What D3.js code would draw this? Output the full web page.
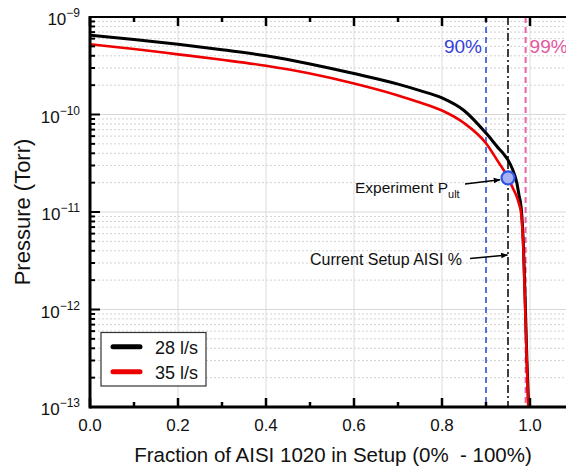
<!DOCTYPE html>
<html>
<head>
<meta charset="utf-8">
<script src="https://cdn.jsdelivr.net/npm/d3@7"></script>
<style>
  html, body { margin: 0; padding: 0; background: #fff; }
  svg { display: block; font-family: Arial, "Liberation Sans", sans-serif; }
</style>
</head>
<body>
<svg id="chart" width="566" height="470"></svg>
<script>
// ---- data ----
const fraction28 = [0, 0.1, 0.2, 0.3, 0.4, 0.5, 0.6, 0.7, 0.75, 0.8, 0.85, 0.9, 0.93, 0.94, 0.95, 0.96, 0.97, 0.975, 0.98, 0.985, 0.989, 0.993, 0.997];
const pressure28 = [6.5e-10, 5.88e-10, 5.25e-10, 4.61e-10, 4.01e-10, 3.30e-10, 2.63e-10, 2.05e-10, 1.76e-10, 1.48e-10, 1.10e-10, 6.45e-11, 4.43e-11, 3.94e-11, 3.41e-11, 2.76e-11, 2.0e-11, 1.49e-11, 1.1e-11, 4.6e-12, 1.26e-12, 3.0e-13, 1e-13];
const fraction35 = [0, 0.1, 0.2, 0.3, 0.4, 0.5, 0.6, 0.7, 0.75, 0.8, 0.85, 0.9, 0.93, 0.94, 0.95, 0.96, 0.97, 0.975, 0.98, 0.985, 0.989, 0.993, 0.996];
const pressure35 = [5.25e-10, 4.7e-10, 4.14e-10, 3.64e-10, 3.16e-10, 2.63e-10, 2.08e-10, 1.57e-10, 1.33e-10, 1.10e-10, 8.18e-11, 5.07e-11, 3.16e-11, 2.7e-11, 2.24e-11, 1.8e-11, 1.43e-11, 1.21e-11, 9.5e-12, 4.1e-12, 1.03e-12, 2.7e-13, 1e-13];
const seriesNames = ["28 l/s", "35 l/s"];
const xMajorTicks = [0, 0.2, 0.4, 0.6, 0.8, 1.0];
const xMinorTicks = [0.1, 0.3, 0.5, 0.7, 0.9, 1.1];
const yDecades = [-13, -12, -11, -10, -9];
const refLines = [0.9, 0.95, 0.99];
const refLabels = ["90%", "", "99%"];
const experimentPoint = [0.95, 2.24e-11];

// ---- layout ----
const svg = d3.select("#chart");
const L = 90, T = 17, B = 407, R = 590;
const x = d3.scaleLinear().domain([0, (R - L) / 440]).range([L, R]);
const y = d3.scaleLog().domain([1e-13, 1e-9]).range([B, T]);

svg.append("defs").append("clipPath").attr("id", "plotclip")
  .append("rect").attr("x", L).attr("y", T).attr("width", R - L).attr("height", B - T);

// minor y values
const yMinor = [];
yDecades.slice(0, -1).forEach(d => { for (let k = 2; k <= 9; k++) yMinor.push(k * Math.pow(10, d)); });

// grid
const grid = svg.append("g");
grid.selectAll(".hmin").data(yMinor).join("line")
  .attr("x1", L).attr("x2", R).attr("y1", d => y(d)).attr("y2", d => y(d))
  .attr("stroke", "#d2d2d2").attr("stroke-width", 1).attr("stroke-dasharray", "2,2");
grid.selectAll(".hmaj").data(yDecades.slice(1, -1)).join("line")
  .attr("x1", L).attr("x2", R).attr("y1", d => y(Math.pow(10, d))).attr("y2", d => y(Math.pow(10, d)))
  .attr("stroke", "#d8d8d8").attr("stroke-width", 1);
grid.selectAll(".vmaj").data(xMajorTicks.slice(1)).join("line")
  .attr("x1", d => x(d)).attr("x2", d => x(d)).attr("y1", T).attr("y2", B)
  .attr("stroke", "#dcdcdc").attr("stroke-width", 1);

// reference vertical lines
const refColors = ["#2340d0", "#000000", "#ee5fa6"];
const refDash = ["6,4", "8,3,2,3", "6,4"];
svg.append("g").selectAll("line").data(refLines).join("line")
  .attr("x1", d => x(d)).attr("x2", d => x(d)).attr("y1", T).attr("y2", B)
  .attr("stroke", (d, i) => refColors[i]).attr("stroke-width", (d, i) => i === 2 ? 2 : 1.5)
  .attr("stroke-dasharray", (d, i) => refDash[i]);
svg.append("g").selectAll("text").data(refLines).join("text")
  .attr("x", (d, i) => i === 0 ? x(d) - 4 : x(d) + 4)
  .attr("y", 53)
  .attr("text-anchor", (d, i) => i === 0 ? "end" : "start")
  .attr("font-size", 19)
  .attr("fill", (d, i) => i === 0 ? "#3440d8" : "#e4579f")
  .text((d, i) => refLabels[i]);

// curves
const line = d3.line().x(d => x(d[0])).y(d => y(d[1])).curve(d3.curveMonotoneX);
const curves = svg.append("g").attr("clip-path", "url(#plotclip)");
curves.append("path").datum(d3.zip(fraction28, pressure28))
  .attr("d", line).attr("fill", "none").attr("stroke", "#000").attr("stroke-width", 3);
curves.append("path").datum(d3.zip(fraction35, pressure35))
  .attr("d", line).attr("fill", "none").attr("stroke", "#ee0000").attr("stroke-width", 2.6);

// experiment point
svg.append("circle").attr("cx", x(experimentPoint[0])).attr("cy", y(experimentPoint[1])).attr("r", 6.5)
  .attr("fill", "#a8b2f2").attr("stroke", "#2a55e6").attr("stroke-width", 2.2);

// axes frame
const axes = svg.append("g");
axes.append("line").attr("x1", L).attr("x2", R).attr("y1", B).attr("y2", B).attr("stroke", "#000").attr("stroke-width", 3);
axes.append("line").attr("x1", L).attr("x2", L).attr("y1", T - 1).attr("y2", B + 1.5).attr("stroke", "#000").attr("stroke-width", 3);
axes.append("line").attr("x1", L).attr("x2", R).attr("y1", T).attr("y2", T).attr("stroke", "#000").attr("stroke-width", 2);

// x ticks (inward), bottom and top
const xTicksAll = xMajorTicks.map(v => [v, 9]).concat(xMinorTicks.map(v => [v, 5]));
axes.selectAll(".xtb").data(xTicksAll).join("line")
  .attr("x1", d => x(d[0])).attr("x2", d => x(d[0])).attr("y1", B).attr("y2", d => B - d[1])
  .attr("stroke", "#000").attr("stroke-width", 2.5);
axes.selectAll(".xtt").data(xTicksAll).join("line")
  .attr("x1", d => x(d[0])).attr("x2", d => x(d[0])).attr("y1", T).attr("y2", d => T + d[1])
  .attr("stroke", "#000").attr("stroke-width", 2.5);
// y ticks (inward)
const yTicksAll = yDecades.map(d => [Math.pow(10, d), 10]).concat(yMinor.map(v => [v, 5]));
axes.selectAll(".yt").data(yTicksAll).join("line")
  .attr("x1", L).attr("x2", d => L + d[1]).attr("y1", d => y(d[0])).attr("y2", d => y(d[0]))
  .attr("stroke", "#000").attr("stroke-width", 2);

// tick labels
svg.append("g").selectAll("text").data(xMajorTicks).join("text")
  .attr("x", d => x(d)).attr("y", 431).attr("text-anchor", "middle").attr("font-size", 17)
  .attr("fill", "#111").text(d => d3.format(".1f")(d));
const yl = svg.append("g").selectAll("text").data(yDecades).join("text")
  .attr("x", 80).attr("y", d => y(Math.pow(10, d)) + 8).attr("text-anchor", "end")
  .attr("font-size", 17).attr("fill", "#111");
yl.append("tspan").text("10");
yl.append("tspan").attr("dy", -8).attr("font-size", 12).text(d => "\u2212" + Math.abs(d));

// axis titles
svg.append("text").attr("x", 333).attr("y", 462).attr("text-anchor", "middle")
  .attr("font-size", 20.5).attr("fill", "#111").text("Fraction of AISI 1020 in Setup (0%\u00a0\u00a0- 100%)");
svg.append("text").attr("transform", "translate(30,212) rotate(-90)").attr("text-anchor", "middle")
  .attr("font-size", 22).attr("fill", "#111").text("Pressure (Torr)");

// annotations
const defs = svg.select("defs");
defs.append("marker").attr("id", "arrow").attr("viewBox", "0 0 10 10").attr("refX", 9).attr("refY", 5)
  .attr("markerWidth", 7).attr("markerHeight", 7).attr("orient", "auto-start-reverse").attr("markerUnits", "userSpaceOnUse")
  .append("path").attr("d", "M0,1 L10,5 L0,9 Z").attr("fill", "#000");
const ann1 = svg.append("text").attr("x", 355).attr("y", 193).attr("font-size", 15.5).attr("fill", "#111");
ann1.append("tspan").text("Experiment P");
ann1.append("tspan").attr("dy", 5).attr("font-size", 11).text("ult");
svg.append("line").attr("x1", 465).attr("y1", 184).attr("x2", x(experimentPoint[0]) - 8).attr("y2", y(experimentPoint[1]) + 2)
  .attr("stroke", "#000").attr("stroke-width", 1.5).attr("marker-end", "url(#arrow)");
svg.append("text").attr("x", 310).attr("y", 265).attr("font-size", 16).attr("fill", "#111").text("Current Setup AISI %");
svg.append("line").attr("x1", 470).attr("y1", 258.5).attr("x2", x(0.95) - 0.5).attr("y2", 255)
  .attr("stroke", "#000").attr("stroke-width", 1.5).attr("marker-end", "url(#arrow)");

// legend
const lg = svg.append("g");
lg.append("rect").attr("x", 101).attr("y", 332.5).attr("width", 105).attr("height", 53.5)
  .attr("fill", "#fff").attr("stroke", "#333").attr("stroke-width", 1.2);
const legColors = ["#000", "#ee0000"];
seriesNames.forEach((name, i) => {
  const yy = 346.7 + i * 25;
  lg.append("line").attr("x1", 113).attr("x2", 140).attr("y1", yy).attr("y2", yy)
    .attr("stroke", legColors[i]).attr("stroke-width", 5).attr("stroke-linecap", "round");
  lg.append("text").attr("x", 155).attr("y", yy + 7).attr("font-size", 18).attr("fill", "#111").text(name);
});
</script>
</body>
</html>
